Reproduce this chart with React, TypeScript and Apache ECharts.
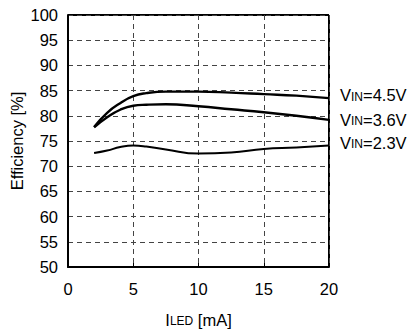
import React, { useEffect, useRef } from "react";
import * as echarts from "echarts";

const currents = [2, 3, 4, 5, 6, 7.5, 10, 12.5, 15, 17.5, 20];
const eff45 = [77.8, 80.6, 82.5, 83.9, 84.5, 84.8, 84.8, 84.6, 84.3, 84.0, 83.5];
const eff36 = [77.7, 79.7, 81.2, 82.0, 82.2, 82.3, 81.9, 81.3, 80.7, 80.0, 79.2];
const eff23 = [72.6, 73.1, 73.8, 74.1, 73.9, 73.3, 72.5, 72.7, 73.4, 73.7, 74.1];
const seriesNames = ["4.5V", "3.6V", "2.3V"];
const xTicks = [0, 5, 10, 15, 20];
const yRange = [50, 100];

const FONT = "'Liberation Sans', Arial, sans-serif";
const FS = 16.5;
const FSS = 12;

export default function App() {
  const ref = useRef<HTMLDivElement>(null);
  useEffect(() => {
    if (!ref.current) return;
    const chart = echarts.init(ref.current, null, { renderer: "svg" });
    const all = [eff45, eff36, eff23];
    const mk = (vals: number[], i: number) => ({
      type: "line",
      name: seriesNames[i],
      data: currents.map((c, k) => [c, vals[k]]),
      smooth: true,
      symbol: "none",
      lineStyle: { color: "#000", width: i === 2 ? 2 : 2.4 },
      endLabel: {
        show: true,
        formatter: () => `{v|V}{s|IN}{v|=${seriesNames[i]}}`,
        offset: [3, [-3, 0, -3][i]],
        rich: {
          v: { fontSize: FS, fontFamily: FONT, color: "#000" },
          s: { fontSize: FSS, fontFamily: FONT, color: "#000", padding: [3, 0, 0, 0] },
        },
      },
    });
    chart.setOption({
      animation: false,
      grid: { left: 68, top: 15, width: 261, height: 252, containLabel: false, outerBoundsMode: "none" },
      xAxis: {
        type: "value",
        min: xTicks[0],
        max: xTicks[xTicks.length - 1],
        interval: 5,
        name: "{i|I}{s|LED}{i| [mA]}",
        nameLocation: "middle",
        nameGap: 44,
        nameTextStyle: {
          rich: {
            i: { fontSize: FS, fontFamily: FONT, color: "#000" },
            s: { fontSize: FSS, fontFamily: FONT, color: "#000", padding: [3, 0, 0, 0] },
          },
        },
        axisLine: { show: true, onZero: false, lineStyle: { color: "#000", width: 2 } },
        axisTick: { show: true, inside: true, length: 4, lineStyle: { color: "#000" } },
        axisLabel: { fontSize: FS, fontFamily: FONT, color: "#000", margin: 13 },
        splitLine: { show: true, lineStyle: { color: "#444", type: [5, 4], width: 1 } },
      },
      yAxis: {
        type: "value",
        min: yRange[0],
        max: yRange[1],
        interval: 5,
        name: "Efficiency [%]",
        nameLocation: "middle",
        nameMoveOverlap: false,
        nameGap: 43,
        nameTextStyle: { fontSize: FS, fontFamily: FONT, color: "#000" },
        axisLine: { show: true, lineStyle: { color: "#000", width: 2 } },
        axisTick: { show: false },
        axisLabel: { fontSize: FS, fontFamily: FONT, color: "#000", margin: 10 },
        splitLine: { show: true, lineStyle: { color: "#444", type: [5, 4], width: 1 } },
      },
      graphic: [
        {
          type: "line",
          shape: { x1: 68, y1: 15, x2: 329, y2: 15 },
          style: { stroke: "#000", lineWidth: 2 },
        },
        {
          type: "line",
          shape: { x1: 329, y1: 15, x2: 329, y2: 267 },
          style: { stroke: "#000", lineWidth: 2 },
        },
      ],
      series: all.map((v, i) => mk(v, i)),
    });
    return () => chart.dispose();
  }, []);
  return <div ref={ref} style={{ width: 415, height: 336, position: "absolute", left: 0, top: 0 }} />;
}
